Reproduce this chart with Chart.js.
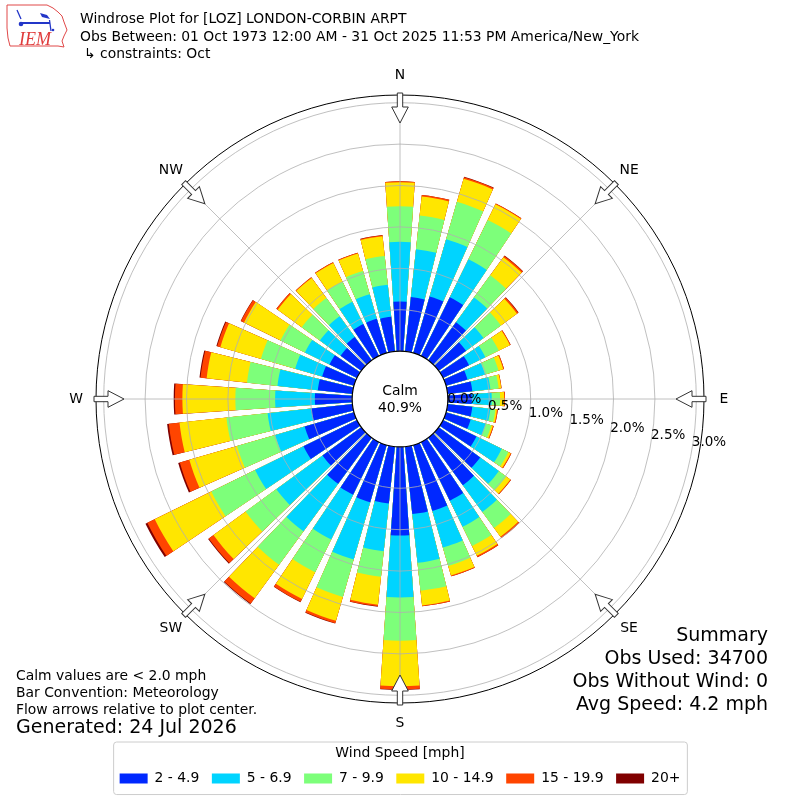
<!DOCTYPE html>
<html>
<head>
<meta charset="utf-8">
<script src="https://cdn.jsdelivr.net/npm/chart.js"></script>
<style>
  html, body { margin: 0; padding: 0; background: #fff; }
  #wrap { width: 800px; height: 800px; }
</style>
</head>
<body>
<div id="wrap"><canvas id="roseChart" width="800" height="800"></canvas></div>
<script>
// direction bins, degrees clockwise from north
const bearings = ['0','10','20','30','40','50','60','70','80','90','100','110',
  '120','130','140','150','160','170','180','190','200','210','220','230',
  '240','250','260','270','280','290','300','310','320','330','340','350'];

// percent of obs per direction, one array per speed bin
const speed2to5 = [0.60,0.66,0.71,0.79,0.57,0.41,0.35,0.27,0.30,0.29,0.30,0.31,
  0.45,0.62,0.71,0.79,0.83,0.82,1.07,0.69,0.72,0.71,0.69,0.58,
  0.72,0.62,0.50,0.45,0.42,0.40,0.37,0.31,0.35,0.43,0.43,0.42];
const speed5to7 = [0.72,0.58,0.72,0.51,0.37,0.26,0.22,0.22,0.22,0.24,0.22,0.19,
  0.34,0.28,0.40,0.35,0.46,0.59,0.75,0.58,0.72,0.60,0.71,0.69,
  0.65,0.37,0.53,0.48,0.49,0.34,0.33,0.31,0.31,0.30,0.31,0.39];
const speed7to10 = [0.43,0.41,0.47,0.53,0.33,0.26,0.18,0.17,0.10,0.10,0.06,0.07,
  0.09,0.11,0.24,0.26,0.23,0.34,0.52,0.31,0.47,0.44,0.50,0.46,
  0.59,0.48,0.50,0.48,0.37,0.43,0.33,0.27,0.27,0.27,0.29,0.35];
const speed10to15 = [0.29,0.23,0.29,0.21,0.27,0.24,0.15,0.06,0.03,0.05,0.02,0.02,
  0.03,0.06,0.13,0.13,0.12,0.18,0.55,0.34,0.30,0.36,0.50,0.48,
  0.76,0.60,0.57,0.64,0.49,0.51,0.49,0.36,0.30,0.25,0.22,0.24];
const speed15to20 = [0.01,0.02,0.02,0.01,0.02,0.02,0.01,0.01,0.005,0.01,0.01,0.01,
  0.01,0.01,0.02,0.02,0.01,0.01,0.04,0.02,0.03,0.04,0.08,0.07,
  0.10,0.12,0.13,0.09,0.075,0.04,0.04,0.02,0.01,0.01,0.01,0.01];
const speed20plus = [0,0,0.005,0,0.005,0.005,0,0,0,0,0,0,
  0,0,0,0,0,0,0.005,0.005,0.005,0.005,0.01,0.01,
  0.025,0.02,0.02,0.015,0.012,0.01,0.005,0,0,0,0,0.005];

const binLabels = ['2 - 4.9', '5 - 6.9', '7 - 9.9', '10 - 14.9', '15 - 19.9', '20+'];
const binColors = ['#0028ff', '#00d4ff', '#7dff7a', '#ffe600', '#ff4500', '#800000'];
const ringTicks = [0, 0.5, 1.0, 1.5, 2.0, 2.5, 3.0];
const compass = ['N', 'NE', 'E', 'SE', 'S', 'SW', 'W', 'NW'];
const calmPct = 40.9;
const rMin = -0.578;  // leaves room for the calm circle
const rMax = 3.093;

// running totals: each ring reaches out to the sum of all slower bins
const bins = [speed2to5, speed5to7, speed7to10, speed10to15, speed15to20, speed20plus];
const stacked = [];
let run = bearings.map(() => 0);
bins.forEach(b => {
  run = run.map((v, i) => v + b[i]);
  stacked.push(run);
});

const FONT = "'DejaVu Sans', sans-serif";
const SMALL = 13.9, BIG = 19;
Chart.defaults.font.family = FONT;
Chart.defaults.color = '#000';

function txt(ctx, s, x, y, size, align, color) {
  ctx.font = size + 'px ' + FONT;
  ctx.textAlign = align || 'left';
  ctx.textBaseline = 'middle';
  ctx.fillStyle = color || '#000';
  ctx.fillText(s, x, y);
}

function drawLogo(ctx) {
  ctx.save();
  // state outline
  ctx.strokeStyle = '#e04848';
  ctx.lineWidth = 1;
  ctx.beginPath();
  const pts = [[7,5],[47,5],[53,8],[58,12],[62,16],[64,22],[67,30],[64,36],[62,41],
    [64,47],[58,46],[10,46],[8,38],[7,28]];
  pts.forEach((p, i) => i ? ctx.lineTo(p[0], p[1]) : ctx.moveTo(p[0], p[1]));
  ctx.closePath();
  ctx.stroke();
  ctx.font = 'italic 18px "Liberation Serif", serif';
  ctx.fillStyle = '#e03c3c';
  ctx.textAlign = 'left';
  ctx.textBaseline = 'alphabetic';
  ctx.fillText('IEM', 19, 45);
  // little station glyph
  ctx.strokeStyle = '#2336c8';
  ctx.fillStyle = '#2336c8';
  ctx.lineWidth = 2;
  ctx.beginPath();
  ctx.moveTo(22, 23); ctx.lineTo(50, 23);
  ctx.stroke();
  ctx.lineWidth = 1.3;
  ctx.beginPath();
  ctx.moveTo(17, 10); ctx.lineTo(21, 19);
  ctx.moveTo(49.5, 20); ctx.lineTo(51, 31);
  ctx.stroke();
  ctx.beginPath();
  ctx.arc(21, 24, 2.3, 0, 2 * Math.PI);
  ctx.fill();
  ctx.beginPath();
  ctx.moveTo(40, 13); ctx.lineTo(47, 15); ctx.lineTo(50, 19); ctx.lineTo(42, 17);
  ctx.closePath();
  ctx.fill();
  ctx.beginPath();
  ctx.arc(53, 30, 1.3, 0, 2 * Math.PI);
  ctx.fill();
  ctx.restore();
}

const roseDecor = {
  id: 'roseDecor',
  afterDatasetsUpdate(chart) {
    // trim each wedge so neighbouring directions are separated
    const gap = 1.1 * Math.PI / 180;
    chart.data.datasets.forEach((ds, i) => {
      chart.getDatasetMeta(i).data.forEach(arc => {
        arc.startAngle += gap;
        arc.endAngle -= gap;
        arc.circumference -= 2 * gap;
      });
    });
  },
  beforeDraw(chart) {
    const lg = chart.legend;
    if (!lg || !lg.legendHitBoxes.length) return;
    const hb = lg.legendHitBoxes;
    const last = hb[hb.length - 1];
    const ctx = chart.ctx;
    ctx.save();
    ctx.strokeStyle = '#cccccc';
    ctx.lineWidth = 1;
    ctx.beginPath();
    const l = hb[0].left - 6, r = last.left + last.width + 7;
    ctx.roundRect(l, lg.top + 7, r - l, lg.bottom - lg.top - 8, 3);
    ctx.stroke();
    ctx.restore();
  },
  afterDraw(chart) {
    const s = chart.scales.r;
    const ctx = chart.ctx;
    const xc = s.xCenter, yc = s.yCenter;
    const R = s.getDistanceFromCenterForValue(rMax);
    const r0 = s.getDistanceFromCenterForValue(0);
    ctx.save();

    // spokes every 45 degrees
    ctx.strokeStyle = '#b0b0b0';
    ctx.lineWidth = 0.8;
    for (let k = 0; k < 8; k++) {
      const a = (k * 45 - 90) * Math.PI / 180;
      ctx.beginPath();
      ctx.moveTo(xc, yc);
      ctx.lineTo(xc + R * Math.cos(a), yc + R * Math.sin(a));
      ctx.stroke();
    }

    // outer frame
    ctx.strokeStyle = '#000';
    ctx.lineWidth = 1;
    ctx.beginPath();
    ctx.arc(xc, yc, R, 0, 2 * Math.PI);
    ctx.stroke();

    // calm circle
    ctx.fillStyle = '#fff';
    ctx.beginPath();
    ctx.arc(xc, yc, r0, 0, 2 * Math.PI);
    ctx.fill();
    ctx.lineWidth = 1.2;
    ctx.stroke();
    txt(ctx, 'Calm', xc, yc - 8, SMALL, 'center');
    txt(ctx, calmPct.toFixed(1) + '%', xc, yc + 9, SMALL, 'center');

    // flow arrows and compass labels
    compass.forEach((name, k) => {
      const a = k * 45 * Math.PI / 180;
      ctx.save();
      ctx.translate(xc, yc);
      ctx.rotate(a);
      ctx.beginPath();
      ctx.moveTo(-2.7, -(R + 2));
      ctx.lineTo(2.7, -(R + 2));
      ctx.lineTo(2.7, -(R - 12));
      ctx.lineTo(8.3, -(R - 12));
      ctx.lineTo(0, -(R - 28));
      ctx.lineTo(-8.3, -(R - 12));
      ctx.lineTo(-2.7, -(R - 12));
      ctx.closePath();
      ctx.fillStyle = '#fff';
      ctx.fill();
      ctx.strokeStyle = '#333';
      ctx.lineWidth = 1;
      ctx.stroke();
      ctx.restore();
      const la = a - Math.PI / 2;
      txt(ctx, name, xc + (R + 20) * Math.cos(la), yc + (R + 20) * Math.sin(la), SMALL, 'center');
    });

    // ring labels along a ray just below east
    const ta = 10 * Math.PI / 180;
    ringTicks.forEach(v => {
      const r = s.getDistanceFromCenterForValue(v);
      txt(ctx, v.toFixed(1) + '%', xc + r * Math.cos(ta), yc + r * Math.sin(ta) - 8, 13.5, 'left');
    });

    // header
    drawLogo(ctx);
    txt(ctx, 'Windrose Plot for [LOZ] LONDON-CORBIN ARPT', 80, 19, SMALL);
    txt(ctx, 'Obs Between: 01 Oct 1973 12:00 AM - 31 Oct 2025 11:53 PM America/New_York', 80, 37, SMALL);
    txt(ctx, '\u21b3 constraints: Oct', 84, 54, SMALL);

    // footnotes
    txt(ctx, 'Calm values are < 2.0 mph', 16, 676.5, SMALL);
    txt(ctx, 'Bar Convention: Meteorology', 16, 693.3, SMALL);
    txt(ctx, 'Flow arrows relative to plot center.', 16, 710, SMALL);
    txt(ctx, 'Generated: 24 Jul 2026', 16, 728.5, BIG);

    txt(ctx, 'Summary', 768, 635.7, BIG, 'right');
    txt(ctx, 'Obs Used: 34700', 768, 659, BIG, 'right');
    txt(ctx, 'Obs Without Wind: 0', 768, 682.3, BIG, 'right');
    txt(ctx, 'Avg Speed: 4.2 mph', 768, 705.5, BIG, 'right');
    ctx.restore();
  }
};

new Chart(document.getElementById('roseChart'), {
  type: 'polarArea',
  data: {
    labels: bearings,
    datasets: stacked.map((d, i) => ({
      label: binLabels[i],
      data: d,
      backgroundColor: binColors[i],
      borderWidth: 0
    }))
  },
  options: {
    responsive: false,
    animation: false,
    events: [],
    layout: { padding: { left: 96, right: 96, top: 63, bottom: 4.45 } },
    scales: {
      r: {
        min: rMin,
        max: rMax,
        startAngle: -5,
        afterBuildTicks: (scale) => { scale.ticks = ringTicks.map(v => ({ value: v })); },
        ticks: { display: false },
        grid: { color: '#b0b0b0', lineWidth: 0.8, circular: true, z: 1 },
        angleLines: { display: false },
        pointLabels: { display: false }
      }
    },
    plugins: {
      tooltip: { enabled: false },
      legend: {
        display: true,
        position: 'bottom',
        title: {
          display: true,
          text: 'Wind Speed [mph]',
          font: { size: SMALL },
          padding: { top: 11.16, bottom: -3.69 }
        },
        labels: {
          boxWidth: 28,
          boxHeight: 10,
          padding: 12.5,
          font: { size: SMALL },
          color: '#000',
          generateLabels: (chart) => chart.data.datasets.map((ds, i) => ({
            text: ds.label,
            fillStyle: ds.backgroundColor,
            strokeStyle: ds.backgroundColor,
            lineWidth: 0,
            hidden: false,
            datasetIndex: i
          }))
        }
      }
    }
  },
  plugins: [roseDecor]
});
</script>
</body>
</html>
